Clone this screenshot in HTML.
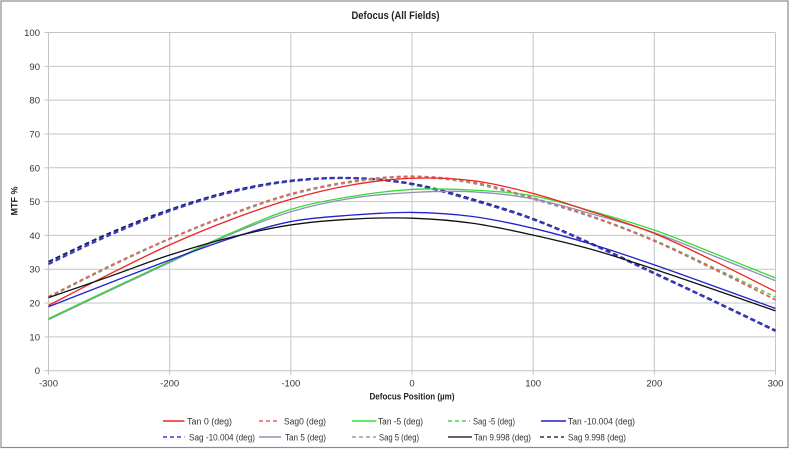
<!DOCTYPE html>
<html><head><meta charset="utf-8">
<style>
html,body{margin:0;padding:0;background:#fff;}
svg{display:block;font-family:"Liberation Sans",sans-serif;}
</style></head>
<body>
<svg id="c" width="793" height="452" viewBox="0 0 793 452" xmlns="http://www.w3.org/2000/svg">
<rect x="0" y="0" width="793" height="452" fill="#fff"/>
<rect x="1" y="1" width="787" height="446.5" fill="none" stroke="#8c8c8c" stroke-width="1.2"/>
<text x="395.5" y="19" font-size="11" font-weight="bold" text-anchor="middle" fill="#222" textLength="88" lengthAdjust="spacingAndGlyphs">Defocus (All Fields)</text>
<g id="grid" stroke="#c4c4c4" stroke-width="1"></g>
<g id="ylab" font-size="9.5" fill="#333" text-anchor="end"></g>
<g id="xlab" font-size="9.5" fill="#333" text-anchor="middle"></g>
<text x="412" y="399.5" font-size="9.5" font-weight="bold" text-anchor="middle" fill="#222" textLength="85" lengthAdjust="spacingAndGlyphs">Defocus Position (µm)</text>
<text transform="translate(17.5,201) rotate(-90)" font-size="9" font-weight="bold" text-anchor="middle" fill="#222">MTF %</text>
<g id="series" fill="none" stroke-linejoin="round" stroke-linecap="butt"></g>
<g id="legend" font-size="9" fill="#333"></g>
</svg>
<script>
(function(){
var NS="http://www.w3.org/2000/svg";
function px(x){return 48.5+(x+300)*727/600;}
function py(v){return 370.7-v*3.382;}
function el(tag,attrs,parent,txt){var e=document.createElementNS(NS,tag);for(var k in attrs)e.setAttribute(k,attrs[k]);if(txt!==undefined)e.textContent=txt;parent.appendChild(e);return e;}
var grid=document.getElementById('grid'),yl=document.getElementById('ylab'),xl=document.getElementById('xlab');
for(var v=0;v<=100;v+=10){var y=py(v);el('line',{x1:44.5,x2:775.5,y1:y,y2:y},grid);el('text',{x:40,y:y+3.5},yl,String(v));}
for(var x=-300;x<=300;x+=100){var X=px(x);el('line',{x1:X,x2:X,y1:py(100),y2:py(0)+4},grid);el('text',{x:X,y:386.5},xl,String(x));}
var xs=[-300,-250,-200,-150,-100,-50,0,50,100,150,200,250,300];
var S=[
 {c:"#1f1f70",d:"5,3",w:2,v:[32.2,40.6,47.6,53.0,56.2,57,55.3,50.7,44.9,37.3,28.9,20.5,11.9]},
 {c:"#3a3ac0",d:"5,3",w:2,v:[31.5,40.0,47.2,52.7,56.0,56.9,55.1,50.4,44.7,37.1,28.7,20.3,11.7]},
 {c:"#9a9aa0",d:"4,3",w:1.6,v:[21.6,30.6,38.9,46.0,52.0,55.7,57.2,55.4,50.7,45.2,38.3,29.8,20.9]},
 {c:"#55cc55",d:"4,3",w:1.6,v:[21.8,30.8,39.0,46.2,52.2,55.9,57.4,55.6,51.0,45.5,38.6,30.3,21.8]},
 {c:"#e06060",d:"4,3",w:1.6,v:[21.9,30.9,39.1,46.3,52.3,56.0,57.5,55.8,51.1,45.4,38.4,30.0,21.0]},
 {c:"#8f8fb8",d:"",w:1.3,v:[15.1,23.6,32.0,40.3,47.0,51.0,52.7,52.9,50.8,46.2,40.8,33.8,26.6]},
 {c:"#33dd33",d:"",w:1.3,v:[15.4,23.9,32.3,40.6,47.7,51.5,53.6,53.4,51.7,47.0,41.6,34.6,27.4]},
 {c:"#ee2222",d:"",w:1.3,v:[19.3,28.5,37.2,44.6,50.7,54.9,56.9,56.2,52.4,46.8,40.6,32.3,23.4]},
 {c:"#2222cc",d:"",w:1.3,v:[18.9,25.9,32.7,39.1,44.1,46.0,46.8,45.6,42.1,37.2,31.3,24.9,18.4]},
 {c:"#111111",d:"",w:1.3,v:[21.6,27.8,34.2,39.4,43.1,44.8,45.1,43.6,40.1,35.7,30.0,23.9,17.7]}
];
var g=document.getElementById('series');
S.forEach(function(s){
 var P=xs.map(function(x,i){return [px(x),py(s.v[i])];});
 var d="M"+P[0][0].toFixed(2)+","+P[0][1].toFixed(2);
 for(var i=0;i<P.length-1;i++){
  var p0=P[i-1]||P[i],p1=P[i],p2=P[i+1],p3=P[i+2]||P[i+1];
  var c1=[p1[0]+(p2[0]-p0[0])/6,p1[1]+(p2[1]-p0[1])/6];
  var c2=[p2[0]-(p3[0]-p1[0])/6,p2[1]-(p3[1]-p1[1])/6];
  d+=" C"+c1[0].toFixed(2)+","+c1[1].toFixed(2)+" "+c2[0].toFixed(2)+","+c2[1].toFixed(2)+" "+p2[0].toFixed(2)+","+p2[1].toFixed(2);
 }
 var a={d:d,stroke:s.c,"stroke-width":s.w};
 if(s.d)a["stroke-dasharray"]=s.d;
 el('path',a,g);
});
var L=document.getElementById('legend');
var items=[
 [163,184.5,187,421,"#ee2222","", "Tan 0 (deg)",45],
 [259,280,284,421,"#e06060","4,3","Sag0 (deg)",42],
 [352,376.5,378,421,"#33dd33","","Tan -5 (deg)",45],
 [448,470,473,421,"#55cc55","4,3","Sag -5 (deg)",42],
 [541,566,568,421,"#2222cc","","Tan -10.004 (deg)",67],
 [163,184.5,189,437,"#3a3ac0","4,3","Sag -10.004 (deg)",66],
 [259,281,285,437,"#8f8fb8","","Tan 5 (deg)",41],
 [352,376,379,437,"#9a9aa0","4,3","Sag 5 (deg)",40],
 [448,472,474,437,"#333333","","Tan 9.998 (deg)",57],
 [540,564,568,437,"#333333","4,3","Sag 9.998 (deg)",58]
];
items.forEach(function(it){
 var a={x1:it[0],x2:it[1],y1:it[3],y2:it[3],stroke:it[4],"stroke-width":1.6};
 if(it[5])a["stroke-dasharray"]=it[5];
 el('line',a,L);
 el('text',{x:it[2],y:it[3]+3.5,textLength:it[7],lengthAdjust:"spacingAndGlyphs"},L,it[6]);
});
})();
</script>
</body></html>
